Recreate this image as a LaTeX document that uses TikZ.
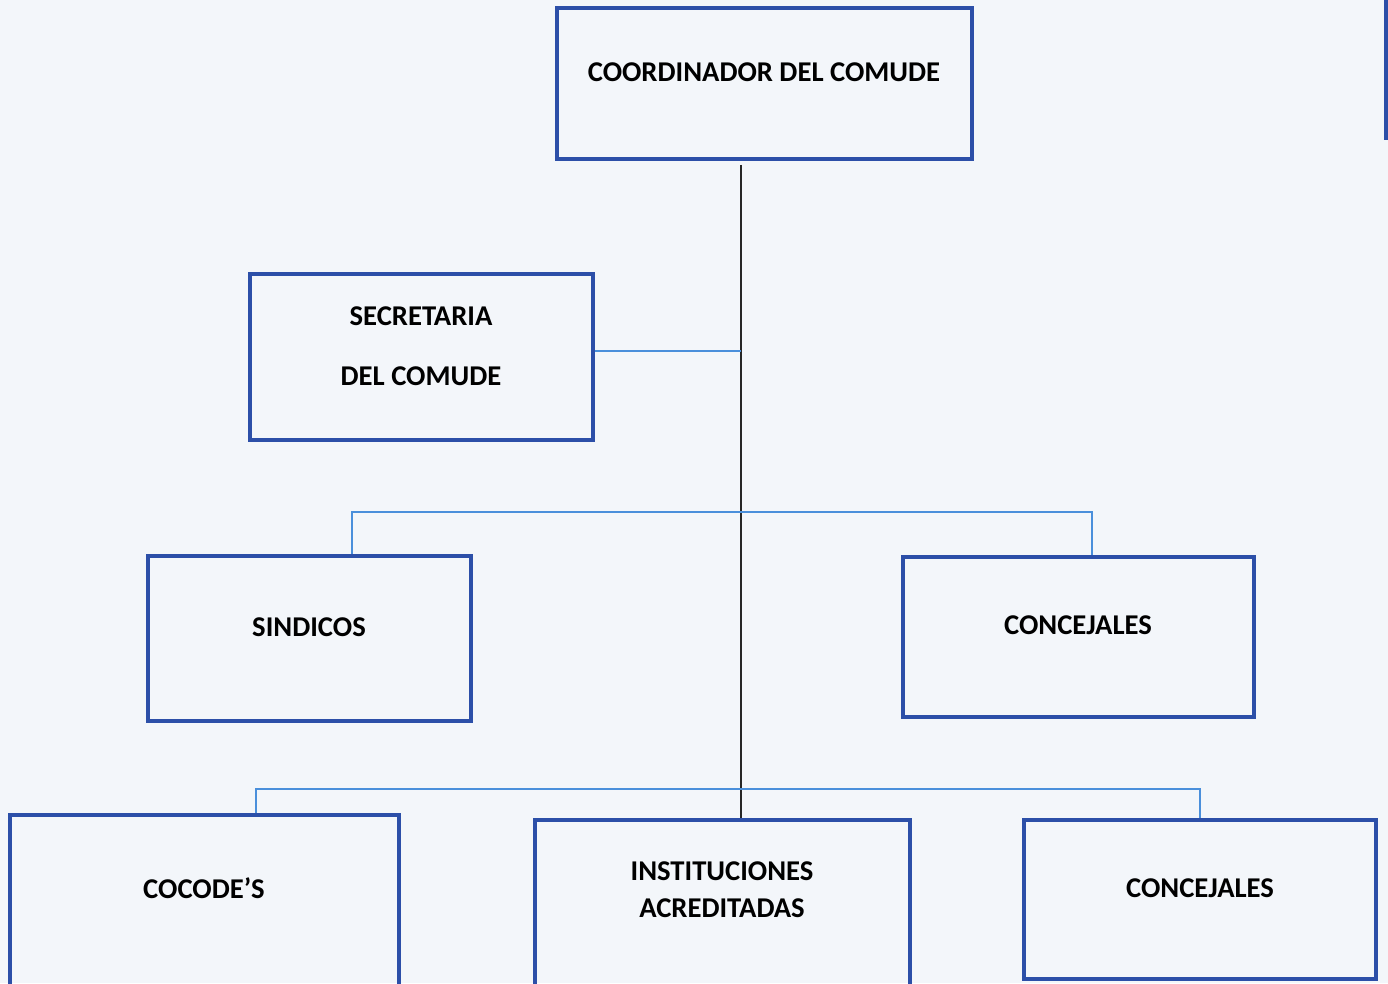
\documentclass[tikz,border=0pt]{standalone}
\usepackage{fontspec}
\setmainfont{Carlito}
\usepackage{tikz}

\definecolor{boxblue}{HTML}{2C4FA8}
\definecolor{linkblue}{HTML}{4A8FDB}
\definecolor{paper}{HTML}{F3F6FA}

\begin{document}
\begin{tikzpicture}[
		x=0.02cm, y=-0.02cm,
		every node/.style={rectangle, draw=boxblue, line width=2pt, inner sep=0pt},
		lbl/.style={draw=none, align=center, font=\fontsize{16.3}{21}\selectfont\bfseries},
		link/.style={draw=linkblue, line width=0.8pt},
		trunkline/.style={draw=black!85, line width=1.1pt}
	]
  \fill[paper] (0,0) rectangle (1388,983);
  \useasboundingbox (0,0) rectangle (1388,983);
  \fill[boxblue] (1384,0) rectangle (1388,140);
  \node (coord) [minimum width=415*0.02cm, minimum height=151*0.02cm] at (764.5, 83.5) {};
  \node (coord_label) [lbl] at (764, 72) {COORDINADOR DEL COMUDE};
  \node (secr) [minimum width=343*0.02cm, minimum height=166*0.02cm] at (421.5, 357) {};
  \node (secr_label) [lbl, font=\fontsize{16.3}{34}\selectfont\bfseries] at (421, 346) {SECRETARIA\\DEL COMUDE};
  \node (sind) [minimum width=323*0.02cm, minimum height=165*0.02cm] at (309.5, 638.5) {};
  \node (sind_label) [lbl] at (309, 627) {SINDICOS};
  \node (conc_1) [minimum width=351*0.02cm, minimum height=160*0.02cm] at (1078.5, 637) {};
  \node (conc_1_label) [lbl] at (1078, 625) {CONCEJALES};
  \node (cocode) [minimum width=389*0.02cm, minimum height=180*0.02cm] at (204.5, 905) {};
  \node (cocode_label) [lbl] at (204, 888) {COCODE’S};
  \node (inst) [minimum width=375*0.02cm, minimum height=175*0.02cm] at (722.5, 907.5) {};
  \node (inst_label) [lbl] at (722, 890) {INSTITUCIONES\\ACREDITADAS};
  \node (conc_2) [minimum width=352*0.02cm, minimum height=159*0.02cm] at (1200, 899.5) {};
  \node (conc_2_label) [lbl] at (1200, 888) {CONCEJALES};
  \coordinate (trunk) at (741, 165);
  \coordinate (fork_0) at (741, 351);
  \coordinate (fork_1l) at (352, 512);
  \coordinate (fork_1r) at (1092, 512);
  \coordinate (fork_2l) at (256, 789);
  \coordinate (fork_2r) at (1200, 789);
  \draw[trunkline] (trunk) -- (inst.north -| trunk);
  \draw[link] (secr.east |- fork_0) -- (fork_0);
  \draw[link] (sind.north -| fork_1l) -- (fork_1l) -- (fork_1r) -- (conc_1.north -| fork_1r);
  \draw[link] (cocode.north -| fork_2l) -- (fork_2l) -- (fork_2r) -- (conc_2.north);
\end{tikzpicture}
\end{document}
